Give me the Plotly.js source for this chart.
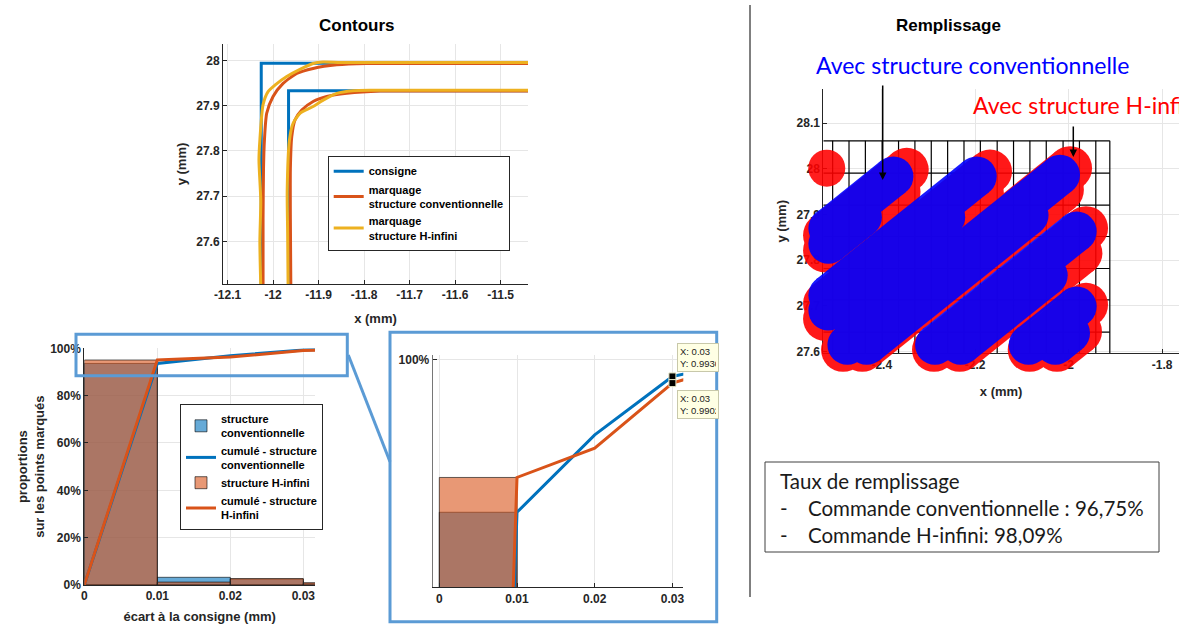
<!DOCTYPE html>
<html><head><meta charset="utf-8">
<script src="https://cdn.plot.ly/plotly-3.0.1.min.js"></script>
<style>html,body{margin:0;padding:0;background:#fff}#chart{width:1179px;height:628px}</style>
</head><body><div id="chart"></div>
<script>
// ---------- Contours (top-left) ----------
const consigneX = [-12.026, -12.026, -11.40, null, -11.966, -11.966, -11.40];
const consigneY = [27.50, 27.9934, 27.9934, null, 27.50, 27.933, 27.933];
const convX = [-12.022, -12.022, -12.021, -12.019, -12.014, -12.000, -11.978, -11.948, -11.912, -11.860, -11.795, -11.70, -11.40, null,
               -11.961, -11.962, -11.962, -11.959, -11.952, -11.937, -11.912, -11.882, -11.838, -11.765, -11.70, -11.40];
const convY = [27.50, 27.65, 27.76, 27.824, 27.883, 27.920, 27.949, 27.971, 27.982, 27.990, 27.993, 27.993, 27.993, null,
               27.50, 27.65, 27.76, 27.831, 27.868, 27.890, 27.909, 27.920, 27.927, 27.932, 27.932, 27.932];
const hinfX = [-12.027, -12.029, -12.027, -12.031, -12.029, -12.022, -12.011, -11.996, -11.970, -11.941, -11.912, -11.890, -11.85, -11.40, null,
               -11.967, -11.968, -11.969, -11.964, -11.956, -11.941, -11.912, -11.890, -11.860, -11.824, -11.78, -11.40];
const hinfY = [27.50, 27.60, 27.69, 27.78, 27.824, 27.902, 27.931, 27.945, 27.964, 27.980, 27.993, 27.996, 27.995, 27.995, null,
               27.50, 27.62, 27.71, 27.824, 27.861, 27.883, 27.898, 27.912, 27.927, 27.933, 27.934, 27.934];
const contourXTicks = [-12.1, -12, -11.9, -11.8, -11.7, -11.6, -11.5];
const contourXLabels = ['-12.1', '-12', '-11.9', '-11.8', '-11.7', '-11.6', '-11.5'];
const contourYTicks = [27.6, 27.7, 27.8, 27.9, 28];
const contourYLabels = ['27.6', '27.7', '27.8', '27.9', '28'];

// ---------- Histogram (bottom-left + inset) ----------
const binLeft = [0, 0.01, 0.02, 0.03];
const convBins = [0.936, 0.0325, 0.0245, 0.007];
const hinfBins = [0.9506, 0.0123, 0.0273, 0.0098];
const cumX = [0, 0.01, 0.02, 0.03, 0.04];
const convCum = [0, 0.936, 0.9685, 0.9930, 1.0];
const hinfCum = [0, 0.9506, 0.9629, 0.9902, 1.0];
const tipX = [0.03, 0.03];
const tipY = [0.9930, 0.9902];
const histXTicks = [0, 0.01, 0.02, 0.03];
const histXLabels = ['0', '0.01', '0.02', '0.03'];
const histYTicks = [0, 0.2, 0.4, 0.6, 0.8, 1];
const histYLabels = ['0%', '20%', '40%', '60%', '80%', '100%'];

// ---------- Remplissage (right) : marking strokes (upper-right end -> lower-left end) ----------
const blueCapX = [-2.3750, -2.4424, -2.1968, -2.2642, -2.0185, -2.0859, -1.9829, -2.0449, -1.9829, -1.9972];
const blueCapY = [27.9833, 27.8943, 27.9833, 27.8943, 27.9869, 27.8980, 27.8629, 27.7670, 27.6988, 27.6405];
const blueEndX = [-2.5141, -2.5141, -2.5141, -2.5141, -2.4734, -2.4321, -2.2859, -2.2310, -2.0856, -2.0285];
const blueEndY = [27.8695, 27.8360, 27.7236, 27.6901, 27.6150, 27.6150, 27.6150, 27.6150, 27.6150, 27.6150];
const redCapX = [-2.3465, -2.3640, -2.1683, -2.1857, -1.9971, -2.0146, -1.9629, -1.9750, -1.9629, -1.9758];
const redCapY = [27.9979, 27.9501, 27.9942, 27.9465, 28.0015, 27.9538, 27.8702, 27.8155, 27.7025, 27.6441];
const redEndX = [-2.5212, -2.5212, -2.5212, -2.5212, -2.4827, -2.4417, -2.2881, -2.2332, -2.0834, -2.0250];
const redEndY = [27.8549, 27.8214, 27.7054, 27.6718, 27.6040, 27.6040, 27.6040, 27.6040, 27.6040, 27.6040];
const redDotX = [-2.5176];
const redDotY = [28.0015];
const gridX = [-2.505, -2.470, -2.435, -2.399, -2.364, -2.329, -2.294, -2.259, -2.224, -2.189, -2.153, -2.118, -2.083, -2.048, -2.012, -1.977, -1.942, -1.912];
const gridY = [28.0613, 27.9906, 27.9206, 27.8520, 27.7820, 27.7134, 27.6427];
const gridXMin = -2.525, gridYMin = 27.5965;
const fillXTicks = [-2.4, -2.2, -2, -1.8];
const fillXLabels = ['-2.4', '-2.2', '-2', '-1.8'];
const fillYTicks = [27.6, 27.7, 27.8, 27.9, 28, 28.1];
const fillYLabels = ['27.6', '27.7', '27.8', '27.9', '28', '28.1'];

// ---------- helpers ----------
const W = 1179, H = 628;
const px = v => v / W, py = v => 1 - v / H;
function segs(x0, y0, x1, y1) {
  const x = [], y = [];
  for (let i = 0; i < x0.length; i++) { x.push(x0[i], x1[i], null); y.push(y0[i], y1[i], null); }
  return {x, y};
}
const gX = [], gY = [];
const gTop = gridY[0], gRight = gridX[gridX.length - 1];
gridX.forEach(v => { gX.push(v, v, null); gY.push(gridYMin, gTop, null); });
gridY.forEach(v => { gX.push(gridXMin, gRight, null); gY.push(v, v, null); });
const blueS = segs(blueCapX, blueCapY, blueEndX, blueEndY);
const redS = segs(redCapX, redCapY, redEndX, redEndY);

// remplissage plot box (px) and an invisible twin axis pair, same scale, with room for strokes beyond the axes
const R = {l: 823.3, r: 1179, t: 89.3, b: 353.3, x0: -2.525, x1: -1.764, y0: 27.5965, y1: 28.174};
const EXT = 30;
const xPerPx = (R.x1 - R.x0) / (R.r - R.l), yPerPx = (R.y1 - R.y0) / (R.b - R.t);

const BLUE = '#0072BD', ORANGE = '#D95319', YELLOW = '#EDB120';
const FONT = 'Liberation Sans, Arial, sans-serif';
const CAL = 'Lato, sans-serif';
const tickFont = {family: FONT, size: 12, color: '#262626', weight: 'bold'};
const axBase = {showline: true, linecolor: '#262626', linewidth: 1, ticks: 'inside', ticklen: 4, tickcolor: '#262626',
  tickfont: tickFont, showgrid: true, gridcolor: '#e6e6e6', zeroline: false, automargin: false, fixedrange: true, tickmode: 'array'};
const titleFont = {family: FONT, size: 13, color: '#262626', weight: 'bold'};

const traces = [
  // contours
  {type: 'scatter', mode: 'lines', x: consigneX, y: consigneY, name: 'consigne', line: {color: BLUE, width: 3}, xaxis: 'x', yaxis: 'y', legend: 'legend', connectgaps: false},
  {type: 'scatter', mode: 'lines', x: convX, y: convY, name: 'marquage<br>structure conventionnelle', line: {color: ORANGE, width: 3, shape: 'spline', smoothing: 0.6}, xaxis: 'x', yaxis: 'y', legend: 'legend'},
  {type: 'scatter', mode: 'lines', x: hinfX, y: hinfY, name: 'marquage<br>structure H-infini', line: {color: YELLOW, width: 3, shape: 'spline', smoothing: 0.6}, xaxis: 'x', yaxis: 'y', legend: 'legend'},
  // histogram main
  {type: 'bar', x: binLeft, y: convBins, width: 0.01, offset: 0, name: 'structure<br>conventionnelle', marker: {color: 'rgba(0,114,189,0.6)', line: {color: 'rgba(0,0,0,0.75)', width: 0.8}}, xaxis: 'x2', yaxis: 'y2', legend: 'legend2'},
  {type: 'scatter', mode: 'lines', x: cumX, y: convCum, name: 'cumulé - structure<br>conventionnelle', line: {color: BLUE, width: 3}, xaxis: 'x2', yaxis: 'y2', legend: 'legend2'},
  {type: 'bar', x: binLeft, y: hinfBins, width: 0.01, offset: 0, name: 'structure H-infini', marker: {color: 'rgba(217,83,25,0.6)', line: {color: 'rgba(0,0,0,0.75)', width: 0.8}}, xaxis: 'x2', yaxis: 'y2', legend: 'legend2'},
  {type: 'scatter', mode: 'lines', x: cumX, y: hinfCum, name: 'cumulé - structure<br>H-infini', line: {color: ORANGE, width: 3}, xaxis: 'x2', yaxis: 'y2', legend: 'legend2'},
  // inset
  {type: 'bar', x: binLeft, y: convBins, width: 0.01, offset: 0, marker: {color: 'rgba(0,114,189,0.6)', line: {color: 'rgba(0,0,0,0.75)', width: 0.8}}, xaxis: 'x3', yaxis: 'y3', showlegend: false},
  {type: 'bar', x: binLeft, y: hinfBins, width: 0.01, offset: 0, marker: {color: 'rgba(217,83,25,0.6)', line: {color: 'rgba(0,0,0,0.75)', width: 0.8}}, xaxis: 'x3', yaxis: 'y3', showlegend: false},
  {type: 'scatter', mode: 'lines', x: cumX, y: convCum, line: {color: BLUE, width: 3}, xaxis: 'x3', yaxis: 'y3', showlegend: false},
  {type: 'scatter', mode: 'lines', x: cumX, y: hinfCum, line: {color: ORANGE, width: 3}, xaxis: 'x3', yaxis: 'y3', showlegend: false},
  {type: 'scatter', mode: 'markers', x: tipX, y: tipY, marker: {symbol: 'square', size: 7, color: '#000', line: {color: '#e8e8c8', width: 1}}, xaxis: 'x3', yaxis: 'y3', showlegend: false, cliponaxis: false},
  // remplissage
  {type: 'scatter', mode: 'lines', x: gX, y: gY, line: {color: '#000', width: 1.2}, xaxis: 'x4', yaxis: 'y4', showlegend: false, hoverinfo: 'skip'},
  {type: 'scatter', mode: 'lines+markers', x: redS.x, y: redS.y, line: {color: '#FF0000', width: 44}, marker: {color: '#FF0000', size: 44}, opacity: 0.9, xaxis: 'x5', yaxis: 'y5', showlegend: false, cliponaxis: false, hoverinfo: 'skip'},
  {type: 'scatter', mode: 'markers', x: redDotX, y: redDotY, marker: {color: '#FF0000', size: 37}, opacity: 0.88, xaxis: 'x5', yaxis: 'y5', showlegend: false, cliponaxis: false, hoverinfo: 'skip'},
  {type: 'scatter', mode: 'lines+markers', x: blueS.x, y: blueS.y, line: {color: '#0000FF', width: 40}, marker: {color: '#0000FF', size: 40}, opacity: 0.9, xaxis: 'x5', yaxis: 'y5', showlegend: false, cliponaxis: false, hoverinfo: 'skip'}
];

const legendBase = {xanchor: 'left', yanchor: 'top', bgcolor: '#fff', bordercolor: '#262626', borderwidth: 1,
  font: {family: FONT, size: 11, color: '#000', weight: 'bold'}, tracegroupgap: 0, itemwidth: 30};

function ann(x, y, text, font, extra) {
  return Object.assign({xref: 'paper', yref: 'paper', x: px(x), y: py(y), text: text, showarrow: false, xanchor: 'center', yanchor: 'middle', font: font}, extra || {});
}
const boxFont = {family: CAL, size: 20.5, color: '#1a1a1a'};

const layout = {
  width: W, height: H, margin: {l: 0, r: 0, t: 0, b: 0}, paper_bgcolor: '#fff', plot_bgcolor: 'rgba(0,0,0,0)',
  font: {family: FONT}, barmode: 'overlay', showlegend: true, hovermode: false,
  legend: Object.assign({x: px(327.7), y: py(155.7)}, legendBase),
  legend2: Object.assign({x: px(180), y: py(404)}, legendBase),
  xaxis: Object.assign({}, axBase, {domain: [px(223), px(528)], range: [-12.11, -11.44], tickvals: contourXTicks, ticktext: contourXLabels,
    title: {text: 'x (mm)', font: titleFont, standoff: 12}, anchor: 'y'}),
  yaxis: Object.assign({}, axBase, {domain: [py(284), py(44)], range: [27.506, 28.036], tickvals: contourYTicks, ticktext: contourYLabels,
    title: {text: 'y (mm)', font: titleFont, standoff: 6}, anchor: 'x'}),
  xaxis2: Object.assign({}, axBase, {domain: [px(84.3), px(315)], range: [0, 0.0316], tickvals: histXTicks, ticktext: histXLabels,
    title: {text: 'écart à la consigne (mm)', font: titleFont, standoff: 9}, anchor: 'y2'}),
  yaxis2: Object.assign({}, axBase, {domain: [py(585), py(348.3)], range: [0, 1], tickvals: histYTicks, ticktext: histYLabels,
    title: {text: 'proportions<br>sur les points marqués', font: titleFont, standoff: 2}, anchor: 'x2'}),
  xaxis3: Object.assign({}, axBase, {domain: [px(432.7), px(683.3)], range: [-0.00085, 0.0314], tickvals: histXTicks, ticktext: histXLabels, anchor: 'y3'}),
  yaxis3: Object.assign({}, axBase, {domain: [py(587.3), py(355)], range: [0.9045, 1.002], tickvals: [1], ticktext: ['100%'], linecolor: '#777', anchor: 'x3'}),
  xaxis4: Object.assign({}, axBase, {domain: [px(R.l), px(R.r)], range: [R.x0, R.x1], tickvals: fillXTicks, ticktext: fillXLabels,
    title: {text: 'x (mm)', font: titleFont, standoff: 16}, anchor: 'y4'}),
  yaxis4: Object.assign({}, axBase, {domain: [py(R.b), py(R.t)], range: [R.y0, R.y1], tickvals: fillYTicks, ticktext: fillYLabels,
    title: {text: 'y (mm)', font: titleFont, standoff: 6}, anchor: 'x4'}),
  xaxis5: {visible: false, fixedrange: true, anchor: 'y5', domain: [px(R.l - EXT), px(R.r)], range: [R.x0 - EXT * xPerPx, R.x1]},
  yaxis5: {visible: false, fixedrange: true, anchor: 'x5', domain: [py(R.b + EXT), py(R.t)], range: [R.y0 - EXT * yPerPx, R.y1]},
  shapes: [
    {type: 'line', xref: 'paper', yref: 'paper', x0: px(750), x1: px(750), y0: py(5), y1: py(597), line: {color: '#000', width: 1}},
    {type: 'rect', xref: 'paper', yref: 'paper', x0: px(76), x1: px(347.3), y0: py(375.7), y1: py(334.3), line: {color: '#5B9BD5', width: 3}},
    {type: 'rect', xref: 'paper', yref: 'paper', x0: px(390), x1: px(716.7), y0: py(621.7), y1: py(332.3), line: {color: '#5B9BD5', width: 3}},
    {type: 'line', xref: 'paper', yref: 'paper', x0: px(348.3), x1: px(390), y0: py(355), y1: py(461.7), line: {color: '#5B9BD5', width: 3}},
    {type: 'rect', xref: 'paper', yref: 'paper', x0: px(765), x1: px(1159), y0: py(552), y1: py(462), line: {color: '#404040', width: 1}}
  ],
  annotations: [
    ann(357, 25, 'Contours', {family: FONT, size: 17, color: '#000', weight: 'bold'}),
    ann(948, 25, 'Remplissage', {family: FONT, size: 17, color: '#000', weight: 'bold'}),
    ann(972, 65, 'Avec structure conventionnelle', {family: CAL, size: 23, color: '#0000FF'}),
    ann(971, 105, 'Avec structure H-infini', {family: CAL, size: 23, color: '#FF0000'}, {xanchor: 'left'}),
    {xref: 'paper', yref: 'paper', x: px(882.7), y: py(180), ax: 0, ay: -96, text: '', showarrow: true, arrowhead: 2, arrowsize: 1, arrowwidth: 1.5, arrowcolor: '#000'},
    {xref: 'paper', yref: 'paper', x: px(1073.3), y: py(157), ax: 0, ay: -32, text: '', showarrow: true, arrowhead: 2, arrowsize: 1, arrowwidth: 1.5, arrowcolor: '#000'},
    ann(676.7, 342.7, 'X: 0.03<br>Y: 0.9930', {family: FONT, size: 9.5, color: '#222'},
      {xanchor: 'left', yanchor: 'top', align: 'left', width: 36, borderpad: 2, bgcolor: '#FFFFE4', bordercolor: '#C8C8AA', borderwidth: 1}),
    ann(676.7, 390, 'X: 0.03<br>Y: 0.9902', {family: FONT, size: 9.5, color: '#222'},
      {xanchor: 'left', yanchor: 'top', align: 'left', width: 36, borderpad: 2, bgcolor: '#FFFFE4', bordercolor: '#C8C8AA', borderwidth: 1}),
    ann(778, 481, 'Taux de remplissage', boxFont, {xanchor: 'left'}),
    ann(778, 508, '-', boxFont, {xanchor: 'left'}),
    ann(806, 508, 'Commande conventionnelle : 96,75%', boxFont, {xanchor: 'left'}),
    ann(778, 535, '-', boxFont, {xanchor: 'left'}),
    ann(806, 535, 'Commande H-infini: 98,09%', boxFont, {xanchor: 'left'})
  ]
};
Plotly.newPlot('chart', traces, layout, {staticPlot: true, displayModeBar: false});
</script></body></html>
